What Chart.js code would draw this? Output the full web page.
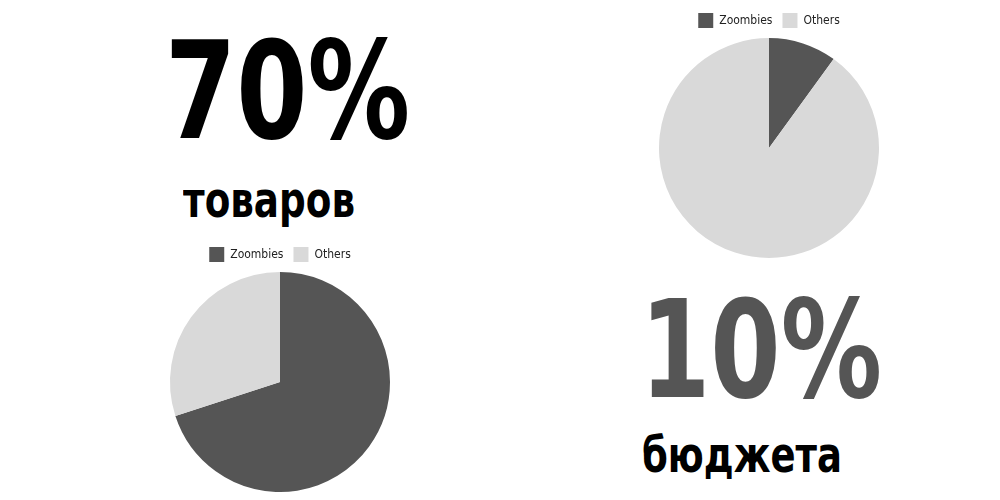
<!DOCTYPE html>
<html>
<head>
<meta charset="utf-8">
<script src="https://cdn.jsdelivr.net/npm/chart.js@4"></script>
<style>
  html, body { margin: 0; padding: 0; background: #fff; }
  body { width: 1000px; height: 500px; position: relative; overflow: hidden;
         font-family: 'DejaVu Sans Condensed', 'DejaVu Sans', sans-serif; font-weight: 700; font-stretch: condensed; }
  .big { position: absolute; font-size: 136px; line-height: 1; white-space: nowrap; transform-origin: 0 0; }
  .word { position: absolute; font-size: 50px; line-height: 1; white-space: nowrap; color: #000; transform-origin: 0 0; }
  .box { position: absolute; }
</style>
</head>
<body>
  <div class="big" data-w="245" style="left:165px; top:23px; color:#000;">70%</div>
  <div class="word" data-w="172" style="left:183px; top:175px;">товаров</div>
  <div class="big" data-w="242" style="left:640px; top:282px; color:#555;">10%</div>
  <div class="word" data-w="200" style="left:642px; top:430px;">бюджета</div>

  <div class="box" style="left:609px; top:0px; width:320px; height:258px;"><canvas id="pieTop"></canvas></div>
  <div class="box" style="left:120px; top:234px; width:320px; height:258px;"><canvas id="pieBottom"></canvas></div>

<script>
/* ---- data ---- */
var labels      = ['Zoombies', 'Others'];
var budgetShare = [10, 90];   // top-right pie
var goodsShare  = [70, 30];   // bottom-left pie
var colors      = ['#555555', '#d9d9d9'];

var legendFont = "'DejaVu Sans Condensed', 'DejaVu Sans', sans-serif";

/* squeeze the headline text to the narrow width of the original */
document.querySelectorAll('[data-w]').forEach(function (el) {
  var w = el.getBoundingClientRect().width;
  el.style.transform = 'scaleX(' + (parseFloat(el.dataset.w) / w) + ')';
});

function makePie(id, values) {
  return new Chart(document.getElementById(id), {
    type: 'pie',
    data: {
      labels: labels,
      datasets: [{
        data: values,
        backgroundColor: colors,
        borderWidth: 0
      }]
    },
    options: {
      responsive: true,
      maintainAspectRatio: false,
      animation: false,
      layout: { padding: { top: 3 } },
      plugins: {
        legend: {
          position: 'top',
          labels: {
            font: { family: legendFont, size: 12 },
            color: '#222',
            boxWidth: 15,
            boxHeight: 15,
            padding: 10
          }
        }
      }
    }
  });
}

makePie('pieTop', budgetShare);
makePie('pieBottom', goodsShare);
</script>
</body>
</html>
